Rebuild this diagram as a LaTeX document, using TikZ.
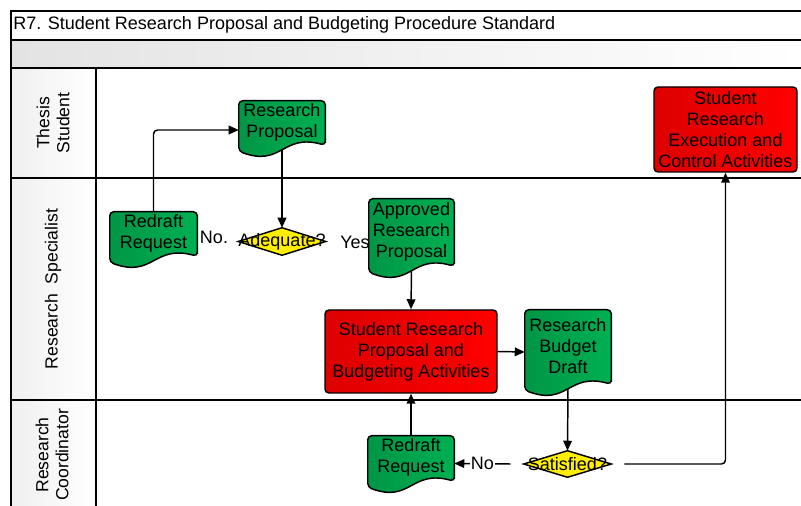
\documentclass[tikz,border=0pt]{standalone}
\usepackage{fontspec}
\setmainfont{Liberation Sans}
\usetikzlibrary{arrows.meta,calc}
\pgfdeclarelayer{frame}
\pgfdeclarelayer{conn}
\pgfdeclarelayer{shapes}
\pgfsetlayers{frame,conn,shapes,main}
\definecolor{gD}{RGB}{0,150,70}
\definecolor{gL}{RGB}{0,176,82}
\definecolor{rD}{RGB}{222,0,0}
\definecolor{rL}{RGB}{255,0,0}
\definecolor{yl}{RGB}{255,238,0}
\tikzset{
  lanebox/.style={line width=1.5pt},
  base/.style={inner sep=0pt, draw=none},
  txt/.style={inner sep=0pt, align=center, font=\fontsize{13.5}{15.75}\selectfont},
  docdraw/.style={draw=black, line width=1.1pt, left color=gD, right color=gL, rounded corners=3pt},
  actbox/.style={draw=black, line width=1.1pt, left color=rD, right color=rL, rounded corners=3pt, align=center, inner sep=0pt, font=\fontsize{13.5}{15.75}\selectfont},
  decdraw/.style={draw=black, line width=1.1pt, fill=yl},
  arr/.style={draw=black, line width=1.1pt, -{Triangle[length=7.5pt,width=6.5pt]}},
  lbl/.style={inner sep=1pt, font=\fontsize{13.5}{15}\selectfont},
  lanelbl/.style={rotate=90, align=center, font=\fontsize{13.2}{15}\selectfont},
}
\newcommand\docnode[6]{%
  \node[base, minimum width=#4*0.75pt, minimum height=#5*0.75pt] (#1) at (#2,#3) {};
  \begin{pgfonlayer}{shapes}
    \path[docdraw] ($(#1.south east)+(0,-10)$) -- (#1.north east) -- (#1.north west) -- ($(#1.south west)+(0,-4)$)
      .. controls ($(#1.south)+(0,12)$) and ($(#1.south)+(0,-22)$) .. ($(#1.south east)+(0,-10)$) -- cycle;
  \end{pgfonlayer}
  \node[txt] (#1-t) at ($(#1.center)+(0,-6)$) {#6};}
\newcommand\decnode[6]{%
  \node[base, minimum width=#4*0.75pt, minimum height=#5*0.75pt] (#1) at (#2,#3) {};
  \begin{pgfonlayer}{shapes}
    \path[decdraw] (#1.north) -- (#1.east) -- (#1.south) -- (#1.west) -- cycle;
  \end{pgfonlayer}
  \node[txt] (#1-t) at (#1.center) {#6};}
\begin{document}
\begin{tikzpicture}[x=0.75pt,y=-0.75pt]
\useasboundingbox (0,0) rectangle (801,506);
% frame
\begin{pgfonlayer}{frame}
  \fill[left color=gray!22, right color=white] (11,40) rectangle (801,68);
  \fill[left color=gray!12, right color=white] (11,68) rectangle (96,506);
  \draw[lanebox] (11,11) -- (806,11);
  \draw[lanebox] (11,40) -- (806,40);
  \draw[lanebox] (11,68) -- (806,68);
  \draw[lanebox] (11,178) -- (806,178);
  \draw[lanebox] (11,400) -- (806,400);
  \draw[lanebox] (11,10.3) -- (11,510);
  \draw[lanebox] (96,68) -- (96,510);
\end{pgfonlayer}
\node[anchor=west, inner sep=0pt, font=\fontsize{13.5}{16}\selectfont] (title) at (13,25) {R7. Student Research Proposal and Budgeting Procedure Standard};
\node[lanelbl] (l1) at (53,123) {Thesis\\Student};
\node[lanelbl] (l2) at (53,289) {Research\ \ Specialist};
\node[lanelbl] (l3) at (52,455) {Research\\Coordinator};
% shapes
\docnode{rp}{282}{128}{86}{54}{Research\\Proposal}
\docnode{rr1}{153.5}{239}{87}{54}{Redraft\\Request}
\docnode{apr}{411.5}{237.5}{85}{77}{Approved\\Research\\Proposal}
\docnode{bud}{568}{352}{86}{84}{Research\\Budget\\Draft}
\docnode{rr2}{411}{463.5}{86}{55}{Redraft\\Request}
\decnode{adq}{282}{241.5}{87}{27}{Adequate?}
\decnode{sat}{567.5}{464}{87}{26}{Satisfied?}
\node[actbox, minimum width=172*0.75pt, minimum height=83*0.75pt] (act) at (411,351.5) {Student Research\\Proposal and\\Budgeting Activities};
\node[actbox, minimum width=143*0.75pt, minimum height=85*0.75pt] (exe) at (725.5,129.5) {Student\\Research\\Execution and\\Control Activities};
% labels
\node[lbl] (no1) at (214,237) {No.};
\begin{pgfonlayer}{conn}
  \node[lbl] (yes1) at (355,242) {Yes};
  \draw[arr, rounded corners=3pt] (rr1.north) |- ($(rp.west)+(0,2)$);
  \draw[arr] ($(rp.south)+(0,-6)$) -- (adq.north);
  \draw[arr] ($(apr.south)+(0,-6)$) -- (act.north);
  \draw[arr] (act.east) -- (bud.west);
  \draw[arr] ($(bud.south)+(0,-6)$) -- (sat.north);
  \draw[arr] (rr2.north) -- (act.south);
  \draw[arr] ($(sat.west)+(-13,0)$) -- node[lbl, fill=white] (no2) {No} (rr2.east);
  \draw[arr, rounded corners=3pt] ($(sat.east)+(13,0)$) -| (exe.south);
\end{pgfonlayer}
\end{tikzpicture}
\end{document}
